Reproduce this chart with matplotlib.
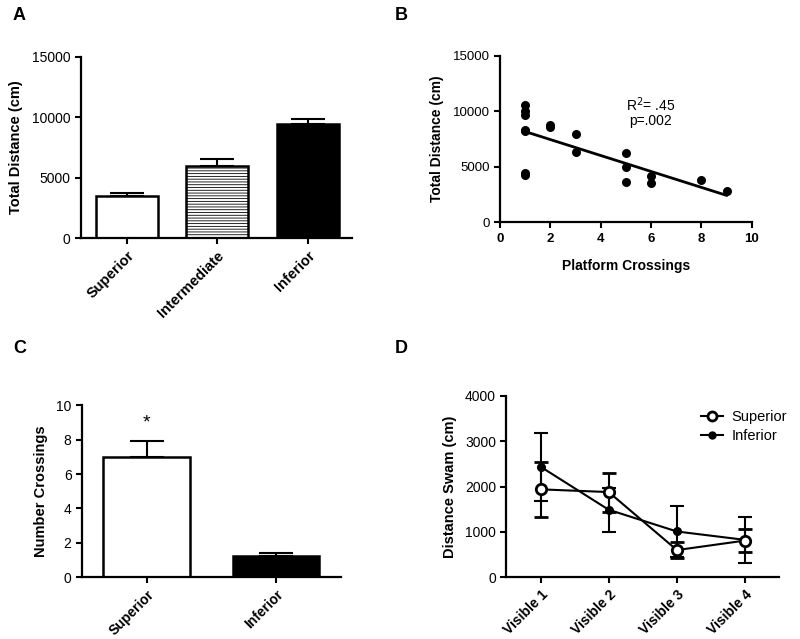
import numpy as np
import matplotlib
matplotlib.use("Agg")
import matplotlib.pyplot as plt
from matplotlib.lines import Line2D

plt.rcParams['font.family'] = ['Liberation Sans', 'DejaVu Sans']
plt.rcParams['hatch.linewidth'] = 0.6
plt.rcParams['hatch.color'] = '#888888'

# Panel A
a_groups = ["Superior", "Intermediate", "Inferior"]
a_means = [3500, 6000, 9450]
a_sem = [200, 520, 400]

# Panel B
b_x = [1, 1, 1, 1, 1, 1, 1, 2, 2, 3, 3, 5, 5, 5, 6, 6, 8, 9]
b_y = [10550, 10000, 9700, 8300, 8200, 4450, 4250, 8750, 8600, 7950, 6350,
       6250, 4950, 3650, 4150, 3550, 3800, 2800]

# Panel C
c_groups = ["Superior", "Inferior"]
c_means = [7.0, 1.25]
c_sem = [0.9, 0.17]

# Panel D
d_days = ["Visible 1", "Visible 2", "Visible 3", "Visible 4"]
d_sup = [1940, 1880, 600, 810]
d_sup_err = [600, 430, 170, 250]
d_inf = [2440, 1490, 1010, 825]
d_inf_err = [750, 490, 570, 500]

fig = plt.figure(figsize=(8.0, 6.39), dpi=100)

def style(ax):
    for s in ['top', 'right']:
        ax.spines[s].set_visible(False)
    for s in ['left', 'bottom']:
        ax.spines[s].set_linewidth(1.6)
    ax.tick_params(direction='out', length=4, width=1.5, labelsize=10, colors='black')

# ---- A
axA = fig.add_axes([0.101, 0.6275, 0.339, 0.2833])
style(axA)
xa = np.arange(len(a_groups))
colorsA = ['white', 'white', 'black']
hatches = [None, '------', None]
for i in range(len(xa)):
    axA.bar(xa[i], a_means[i], width=0.685, color=colorsA[i], edgecolor='black',
            linewidth=1.8, hatch=hatches[i], zorder=2)
axA.errorbar(xa, a_means, yerr=[np.zeros(len(xa)), a_sem], fmt='none', ecolor='black',
             elinewidth=1.5, capsize=12.5, capthick=1.5, zorder=1)
axA.set_xlim(-0.51, 2.49)
axA.set_ylim(0, 15000)
axA.set_yticks([0, 5000, 10000, 15000])
axA.set_xticks(xa)
axA.set_xticklabels(a_groups, rotation=45, ha='right', rotation_mode='anchor',
                    fontweight='bold', fontsize=10.5)
axA.set_ylabel("Total Distance (cm)", fontweight='bold', fontsize=10.5, labelpad=6)

# ---- B
axB = fig.add_axes([0.625, 0.652, 0.3146, 0.2608])
style(axB)
axB.tick_params(labelsize=9.5)
axB.scatter(b_x, b_y, s=30, color='black', zorder=3)
coef = np.polyfit(b_x, b_y, 1)
xl = np.array([min(b_x), max(b_x)])
axB.plot(xl, np.polyval(coef, xl), color='black', lw=2)
axB.set_xlim(0, 10)
axB.set_ylim(0, 15000)
axB.set_xticks([0, 2, 4, 6, 8, 10])
axB.set_yticks([0, 5000, 10000, 15000])
for lab in axB.get_xticklabels():
    lab.set_fontweight('bold')
axB.set_xlabel("Platform Crossings", fontweight='bold', fontsize=10, labelpad=10)
axB.set_ylabel("Total Distance (cm)", fontweight='bold', fontsize=10, labelpad=6)
axB.text(6.0, 10000, "R$^2$= .45\np=.002", ha='center', va='center', fontsize=10,
         linespacing=1.0)

# ---- C
axC = fig.add_axes([0.1025, 0.0966, 0.3235, 0.2691])
style(axC)
xc = np.arange(len(c_groups))
colorsC = ['white', 'black']
axC.bar(xc, c_means, width=0.67, color=colorsC, edgecolor='black', linewidth=1.8, zorder=2)
axC.errorbar(xc, c_means, yerr=[np.zeros(len(xc)), c_sem], fmt='none', ecolor='black',
             elinewidth=1.5, capsize=12.5, capthick=1.5, zorder=1)
axC.set_xlim(-0.5, 1.5)
axC.set_ylim(0, 10)
axC.set_yticks([0, 2, 4, 6, 8, 10])
axC.set_xticks(xc)
axC.set_xticklabels(c_groups, rotation=45, ha='right', rotation_mode='anchor',
                    fontweight='bold', fontsize=10)
axC.set_ylabel("Number Crossings", fontweight='bold', fontsize=10.5, labelpad=6)
axC.text(xc[0], c_means[0] + c_sem[0] + 1.1, "*", ha='center', va='center', fontsize=14)

# ---- D
axD = fig.add_axes([0.633, 0.0966, 0.341, 0.2837])
style(axD)
xd = np.arange(len(d_days))
axD.errorbar(xd, d_inf, yerr=d_inf_err, color='black', lw=1.5, marker='o', ms=5.5,
             mfc='black', mec='black', capsize=5, capthick=1.5, elinewidth=1.5, zorder=2)
axD.errorbar(xd, d_sup, yerr=d_sup_err, color='black', lw=1.5, marker='o', ms=7.5,
             mfc='white', mec='black', mew=2, capsize=5, capthick=1.5, elinewidth=1.5,
             zorder=3)
axD.set_xlim(-0.5, 3.5)
axD.set_ylim(0, 4000)
axD.set_yticks([0, 1000, 2000, 3000, 4000])
axD.set_xticks(xd)
axD.set_xticklabels(d_days, rotation=45, ha='right', rotation_mode='anchor',
                    fontweight='bold', fontsize=10)
axD.set_ylabel("Distance Swam (cm)", fontweight='bold', fontsize=10.5, labelpad=6)
h_sup = Line2D([], [], color='black', lw=1.5, marker='o', ms=6.5, mfc='white', mec='black', mew=2)
h_inf = Line2D([], [], color='black', lw=1.5, marker='o', ms=5, mfc='black', mec='black')
axD.legend([h_sup, h_inf], ["Superior", "Inferior"], loc='upper left',
           bbox_to_anchor=(0.876, 0.358), bbox_transform=fig.transFigure,
           frameon=False, fontsize=10.5, handlelength=1.5, handletextpad=0.6,
           labelspacing=0.35, borderpad=0, borderaxespad=0)

# panel letters
for lab, (x, y) in zip("ABCD", [(0.016, 0.9765), (0.493, 0.9765), (0.016, 0.455), (0.493, 0.455)]):
    fig.text(x, y, lab, fontsize=13, fontweight='bold', ha='left', va='center')

fig.savefig("out.png", dpi=100)
